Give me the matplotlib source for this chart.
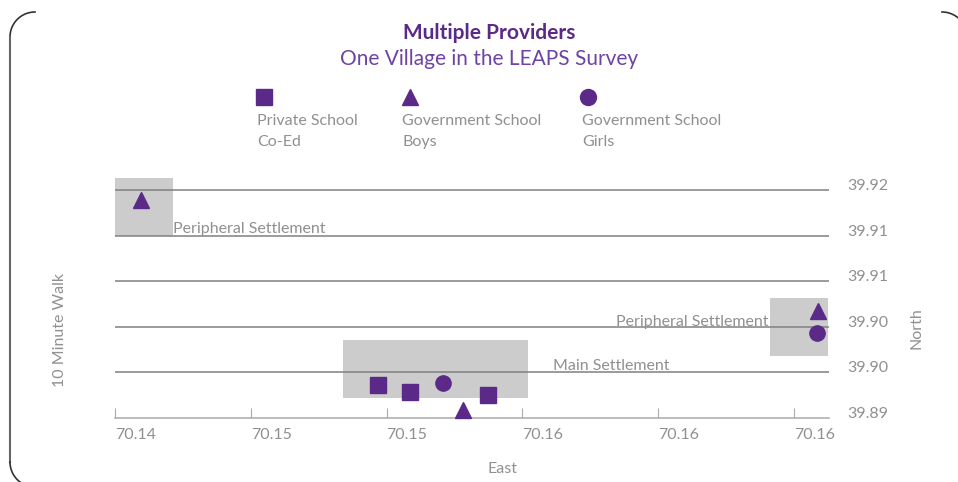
import numpy as np
import matplotlib
matplotlib.use("Agg")
import matplotlib.pyplot as plt
from matplotlib.patches import Rectangle

# ---- data ----
private_x = [70.15175, 70.15269, 70.15499]
private_y = [39.89762, 39.89685, 39.89652]
boys_x = [70.14477, 70.15426, 70.16472]
boys_y = [39.91790, 39.89488, 39.90577]
girls_x = [70.15367, 70.16469]
girls_y = [39.89780, 39.90335]

# settlement areas: (x0, x1, y0, y1)
areas = [(70.1440, 70.14571, 39.91396, 39.92032),
         (70.15072, 70.15616, 39.89619, 39.90255),
         (70.16329, 70.16500, 39.90083, 39.90716)]
area_labels = ["Peripheral Settlement", "Main Settlement", "Peripheral Settlement"]

x_ticks = [70.144, 70.148, 70.152, 70.156, 70.160, 70.164]
y_ticks = [39.894, 39.899, 39.904, 39.909, 39.914, 39.919]

legend_labels = ["Private School\nCo-Ed", "Government School\nBoys", "Government School\nGirls"]

PURPLE = "#5b2a88"
GRAY_TXT = "#909090"
W, H = 958, 482

plt.rcParams['font.family'] = ['Lato', 'DejaVu Sans']

fig = plt.figure(figsize=(W / 100, H / 100), dpi=100)
ax_l, ax_r, ax_b, ax_t = 115, 829, 418, 170
ax = fig.add_axes([ax_l / W, (H - ax_b) / H, (ax_r - ax_l) / W, (ax_b - ax_t) / H])
ax.set_xlim(70.1440, 70.16503)
ax.set_ylim(39.8940, 39.92119)

for (x0, x1, y0, y1) in areas:
    ax.add_patch(Rectangle((x0, y0), x1 - x0, y1 - y0, facecolor="#cccccc",
                           edgecolor="none", zorder=1))

for yt in y_ticks[1:]:
    ax.axhline(yt, color="#808080", lw=1.1, zorder=2)

# area labels
ax.text(areas[0][1], areas[0][2], area_labels[0], ha="left", va="bottom",
        fontsize=11.5, color=GRAY_TXT, zorder=3)
ax.text(70.1569, 39.8997, area_labels[1], ha="left", va="center",
        fontsize=11.5, color=GRAY_TXT, zorder=3)
ax.text(areas[2][0] - 0.00005, 39.90453, area_labels[2], ha="right", va="center",
        fontsize=11.5, color=GRAY_TXT, zorder=3)

ax.plot(private_x, private_y, ls="none", marker="s", ms=11.5, color=PURPLE, zorder=5, clip_on=False)
ax.plot(boys_x, boys_y, ls="none", marker="^", ms=12, color=PURPLE, zorder=5, clip_on=False)
ax.plot(girls_x, girls_y, ls="none", marker="o", ms=11, color=PURPLE, zorder=5, clip_on=False)

for s in ["top", "left", "right"]:
    ax.spines[s].set_visible(False)
ax.spines["bottom"].set_color("#aaaaaa")
ax.spines["bottom"].set_linewidth(1.1)

ax.set_xticks(x_ticks)
ax.set_xticklabels([f"{v:.2f}" for v in x_ticks])
ax.tick_params(axis="x", direction="in", length=7, color="#aaaaaa", pad=7,
               labelsize=11.5, labelcolor=GRAY_TXT)
for lab in ax.get_xticklabels():
    lab.set_horizontalalignment("left")
ax.yaxis.tick_right()
ax.set_yticks(y_ticks)
ax.set_yticklabels([f"{v:.2f}" for v in y_ticks])
ax.tick_params(axis="y", length=0, pad=13, labelsize=11.5, labelcolor=GRAY_TXT)
for lab in ax.get_yticklabels():
    lab.set_verticalalignment("baseline")

# overlay in pixel coords
ov = fig.add_axes([0, 0, 1, 1], zorder=-1)
ov.set_xlim(0, W)
ov.set_ylim(H, 0)
ov.axis("off")

fig.text(489 / W, 1 - 33 / H, "Multiple Providers", ha="center", va="center",
         fontsize=15, fontweight="bold", color=PURPLE)
fig.text(489 / W, 1 - 59 / H, "One Village in the LEAPS Survey", ha="center", va="center",
         fontsize=15, color="#6e43a3")

leg_mark = ["s", "^", "o"]
leg_mx = [264, 410, 588]
leg_tx = [257, 402, 582]
for m, mx, tx, lab in zip(leg_mark, leg_mx, leg_tx, legend_labels):
    ov.plot([mx], [97], ls="none", marker=m, ms=11.5, color=PURPLE)
    fig.text(tx / W, 1 - 114 / H, lab, ha="left", va="top", fontsize=11.5,
             color=GRAY_TXT, linespacing=1.65)

fig.text(60 / W, 1 - 330 / H, "10 Minute Walk", rotation=90, ha="center", va="center",
         fontsize=11.5, color=GRAY_TXT)
fig.text(917 / W, 1 - 328 / H, "North", rotation=90, ha="center", va="center",
         fontsize=11.5, color=GRAY_TXT)
fig.text(502 / W, 1 - 469 / H, "East", ha="center", va="center",
         fontsize=11.5, color=GRAY_TXT)

# rounded frame pieces
r = 25
t = np.linspace(np.pi, 1.5 * np.pi, 30)
ov.plot(35 + r * np.cos(t), 37 + r * np.sin(t), color="#333333", lw=1.2)
ov.plot([10, 10], [37, 462], color="#666666", lw=1.5)
t2 = np.linspace(np.pi, 0.62 * np.pi, 20)
ov.plot(35 + r * np.cos(t2), 462 + r * np.sin(t2), color="#333333", lw=1.2)
t3 = np.linspace(1.5 * np.pi, 1.72 * np.pi, 20)
ov.plot(942 + r * np.cos(t3), 37 + r * np.sin(t3), color="#333333", lw=1.2)

fig.savefig("out.png", dpi=100)
